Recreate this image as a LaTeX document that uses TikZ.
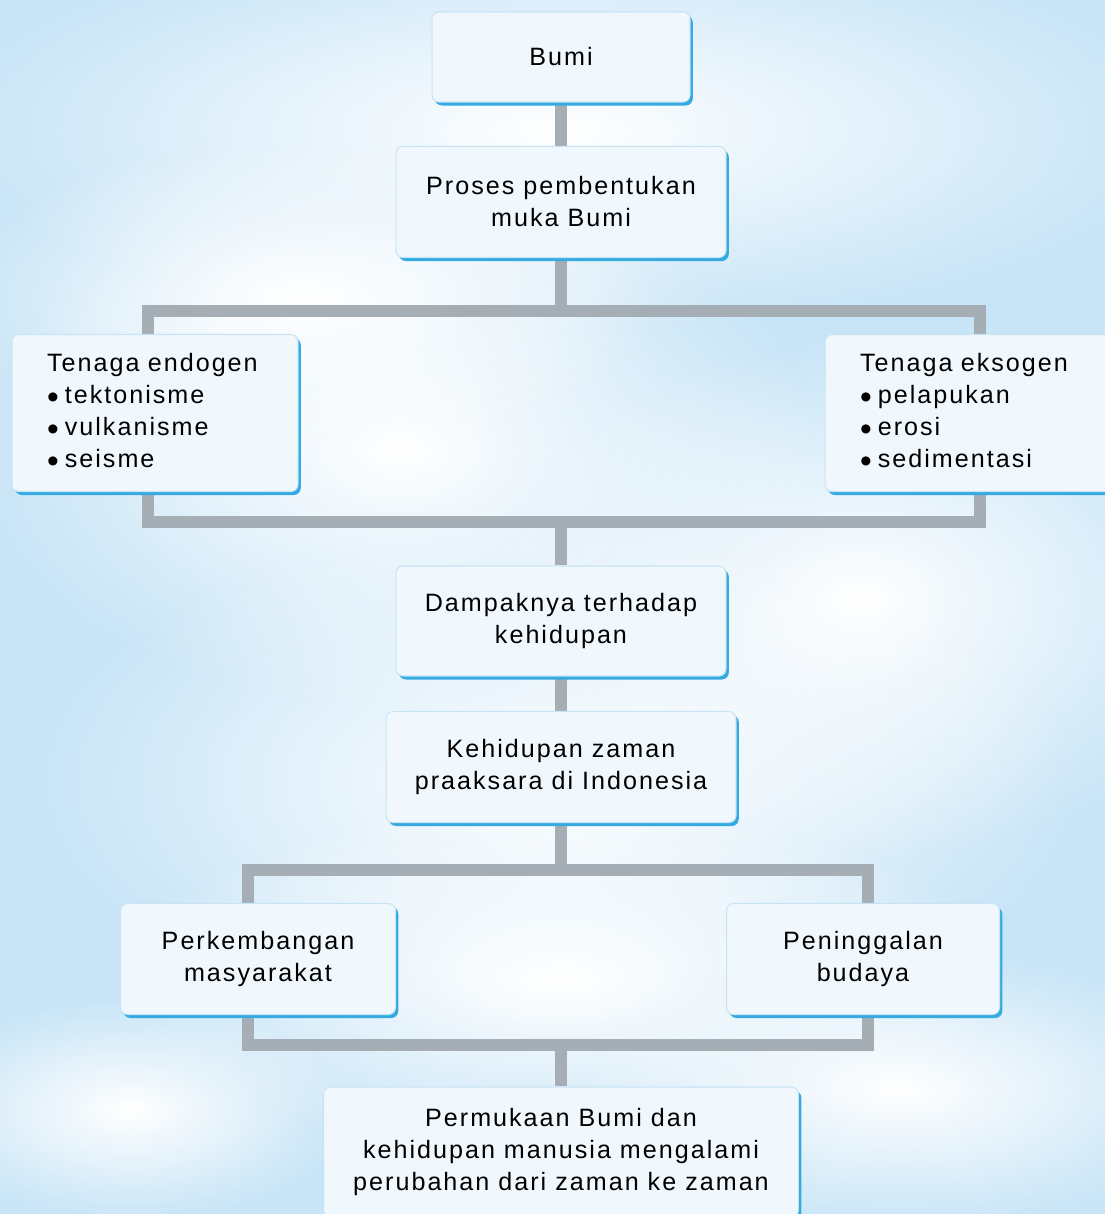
\documentclass[tikz,border=0pt]{standalone}
\usepackage{fontspec}
\setmainfont{Liberation Sans}[LetterSpace=8]
\usetikzlibrary{shadows,fadings,backgrounds}

\definecolor{sky}{RGB}{200,229,247}
\definecolor{boxfill}{RGB}{241,248,253}
\definecolor{boxline}{RGB}{200,228,244}
\definecolor{boxblue}{RGB}{52,170,225}
\definecolor{bargray}{RGB}{166,174,181}
\tikzfading[name=cloudfade, inner color=transparent!0, outer color=transparent!100]
\newcommand{\dotitem}{\raisebox{-2.6pt}{\fontsize{19}{18}\selectfont\textbullet}\hspace{3.5pt}}

\begin{document}
\begin{tikzpicture}
[x=0.02cm, y=-0.02cm,
  box/.style={draw=boxline, fill=boxfill, rounded corners=4pt, line width=0.6pt,
    font=\fontsize{14.3}{18.2}\selectfont, align=center, inner sep=0pt,
    drop shadow={shadow xshift=1.6pt, shadow yshift=-2pt, fill=boxblue, opacity=1}},
  listbox/.style={box, align=left, inner xsep=0.7cm, text width=4.32cm, minimum height=3.14cm},
  bar/.style={draw=bargray, line width=6.8pt},
  cloud/.style={fill=white, path fading=cloudfade}]
  \useasboundingbox (0,0) rectangle (1105,1214);

  % nodes
  \node[box, minimum width=5.16cm, minimum height=1.8cm] (bumi) at (561,57) {Bumi};
  \node[box, minimum width=6.6cm, minimum height=2.22cm] (proses) at (561,202)
    {Proses pembentukan\\muka Bumi};
  \node[listbox] (endogen) at (155,413)
    {Tenaga endogen\\\dotitem tektonisme\\\dotitem vulkanisme\\\dotitem seisme};
  \node[listbox] (eksogen) at (968,413)
    {Tenaga eksogen\\\dotitem pelapukan\\\dotitem erosi\\\dotitem sedimentasi};
  \node[box, minimum width=6.6cm, minimum height=2.2cm] (dampak) at (561,621)
    {Dampaknya terhadap\\kehidupan};
  \node[box, minimum width=7cm, minimum height=2.22cm] (zaman) at (561,767)
    {Kehidupan zaman\\praaksara di Indonesia};
  \node[box, minimum width=5.5cm, minimum height=2.22cm] (perkembangan) at (258,959)
    {Perkembangan\\masyarakat};
  \node[box, minimum width=5.46cm, minimum height=2.22cm] (peninggalan) at (863,959)
    {Peninggalan\\budaya};
  \node[box, minimum width=9.5cm, minimum height=2.6cm] (permukaan) at (561,1152)
    {Permukaan Bumi dan\\kehidupan manusia mengalami\\perubahan dari zaman ke zaman};

  % frame corners
  \coordinate (tenagaTL) at (148,311);
  \coordinate (tenagaBR) at (980,522);
  \coordinate (tenagaT) at (561,311);
  \coordinate (tenagaB) at (561,522);
  \coordinate (warisTL) at (248,870);
  \coordinate (warisBR) at (868,1045);
  \coordinate (warisT) at (561,870);
  \coordinate (warisB) at (561,1045);

  \begin{pgfonlayer}{background}
    % sky
    \fill[sky] (0,0) rectangle (1105,1214);
    \fill[cloud] (560,130) ellipse (620 and 200);
    \fill[cloud] (400,450) ellipse (420 and 260);
    \fill[cloud] (860,600) ellipse (380 and 260);
    \fill[cloud] (560,780) ellipse (520 and 260);
    \fill[cloud] (560,980) ellipse (440 and 180);
    \fill[cloud] (300,300) ellipse (360 and 160);
    \fill[cloud] (900,1090) ellipse (320 and 140);
    \fill[cloud] (130,1110) ellipse (220 and 110);
    % connectors
    \draw[bar] (bumi.south) -- (proses.north);
    \draw[bar] (proses.south) -- (tenagaT);
    \draw[bar] (tenagaTL) rectangle (tenagaBR);
    \draw[bar] (tenagaB) -- (dampak.north);
    \draw[bar] (dampak.south) -- (zaman.north);
    \draw[bar] (zaman.south) -- (warisT);
    \draw[bar] (warisTL) rectangle (warisBR);
    \draw[bar] (warisB) -- (permukaan.north);
  \end{pgfonlayer}
\end{tikzpicture}
\end{document}
